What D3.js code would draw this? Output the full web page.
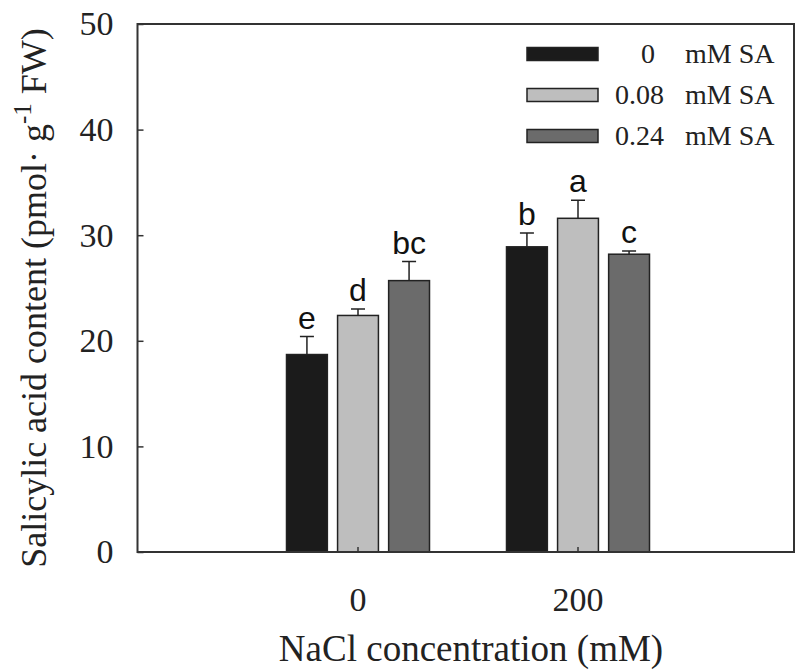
<!DOCTYPE html>
<html><head><meta charset="utf-8">
<script src="https://cdn.jsdelivr.net/npm/d3@7"></script>
<style>body{margin:0;background:#fff}svg{display:block}</style>
</head><body>
<svg id="c" width="800" height="670"></svg>
<script>
const categories = ["0", "200"];
const series = ["0", "0.08", "0.24"];
const seriesLabels = ["0", "0.08", "0.24"];
const values = [[18.7, 28.9], [22.4, 31.6], [25.7, 28.2]];
const errors = [[1.7, 1.3], [0.6, 1.7], [1.8, 0.3]];
const letters = [["e", "b"], ["d", "a"], ["bc", "c"]];
const yTicks = [0, 10, 20, 30, 40, 50];
const colors = ["#1b1b1b", "#bebebe", "#6b6b6b"];

const svg = d3.select("#c");
const L = 137.5, R = 794, T = 24, B = 552;
const y = d3.scaleLinear().domain([0, 50]).range([B, T]);
const x = d3.scaleBand().domain(categories).range([248, 688]).padding(0);
const xs = d3.scaleBand().domain(series).range([-71.5, 71.5]).paddingInner(0.2);

const data = [];
series.forEach((s, i) => categories.forEach((c, j) => data.push({s, c, v: values[i][j], e: errors[i][j], l: letters[i][j], i})));

const g = svg.append("g");
const cx = d => x(d.c) + x.bandwidth() / 2 + xs(d.s);

g.selectAll("rect.bar").data(data).join("rect")
  .attr("x", cx).attr("width", xs.bandwidth())
  .attr("y", d => y(d.v)).attr("height", d => y(0) - y(d.v))
  .attr("fill", d => colors[d.i]).attr("stroke", "#222").attr("stroke-width", 1.5);

g.selectAll("path.err").data(data).join("path")
  .attr("d", d => {
    const m = cx(d) + xs.bandwidth() / 2;
    return `M${m},${y(d.v)}V${y(d.v + d.e)}M${m - 7},${y(d.v + d.e)}H${m + 7}`;
  }).attr("stroke", "#222").attr("stroke-width", 1.5).attr("fill", "none");

g.selectAll("text.let").data(data).join("text")
  .attr("x", d => cx(d) + xs.bandwidth() / 2)
  .attr("y", d => y(d.v + d.e) - 8)
  .attr("text-anchor", "middle")
  .attr("font-family", "Liberation Sans, Arial, sans-serif")
  .attr("font-size", 32).attr("fill", "#111")
  .text(d => d.l);

// frame
svg.append("rect").attr("x", L).attr("y", T).attr("width", R - L).attr("height", B - T)
  .attr("fill", "none").attr("stroke", "#333").attr("stroke-width", 2);

// y axis
const ya = svg.append("g").attr("transform", `translate(${L},0)`)
  .call(d3.axisLeft(y).tickValues(yTicks).tickSize(-6).tickPadding(24).tickFormat(d3.format("d")));
ya.select(".domain").remove();
ya.selectAll("line").attr("stroke", "#333").attr("stroke-width", 1.5);
ya.selectAll("text").attr("font-family", "Liberation Serif, Times New Roman, serif").attr("font-size", 34).attr("fill", "#222");

// x axis
const xa = svg.append("g").attr("transform", `translate(0,${B})`)
  .call(d3.axisBottom(x).tickSize(-5).tickPadding(35));
xa.select(".domain").remove();
xa.selectAll("line").attr("stroke", "#333").attr("stroke-width", 1.5);
xa.selectAll("text").attr("font-family", "Liberation Serif, Times New Roman, serif").attr("font-size", 34).attr("fill", "#222");

// titles
svg.append("text").attr("x", 471).attr("y", 661).attr("text-anchor", "middle")
  .attr("font-family", "Liberation Serif, Times New Roman, serif").attr("font-size", 37).attr("fill", "#222")
  .text("NaCl concentration (mM)");

const yt = svg.append("text").attr("transform", "translate(46,298) rotate(-90)").attr("text-anchor", "middle")
  .attr("font-family", "Liberation Serif, Times New Roman, serif").attr("font-size", 36).attr("fill", "#222");
yt.append("tspan").text("Salicylic acid content (pmol\u00b7  g");
yt.append("tspan").attr("dy", -15).attr("font-size", 25).text("-1");
yt.append("tspan").attr("dy", 15).text(" FW)");

// legend
const lg = svg.append("g");
series.forEach((s, i) => {
  const cy = 54 + i * 41;
  lg.append("rect").attr("x", 527).attr("y", cy - 6.5).attr("width", 71).attr("height", 13)
    .attr("fill", colors[i]).attr("stroke", "#222").attr("stroke-width", 1.5);
  lg.append("text").attr("x", i === 0 ? 641 : 615).attr("y", cy + 9)
    .attr("font-family", "Liberation Serif, Times New Roman, serif").attr("font-size", 28).attr("fill", "#222")
    .text(seriesLabels[i]);
  lg.append("text").attr("x", 685).attr("y", cy + 9)
    .attr("font-family", "Liberation Serif, Times New Roman, serif").attr("font-size", 28).attr("fill", "#222")
    .text("mM SA");
});
</script>
</body></html>
